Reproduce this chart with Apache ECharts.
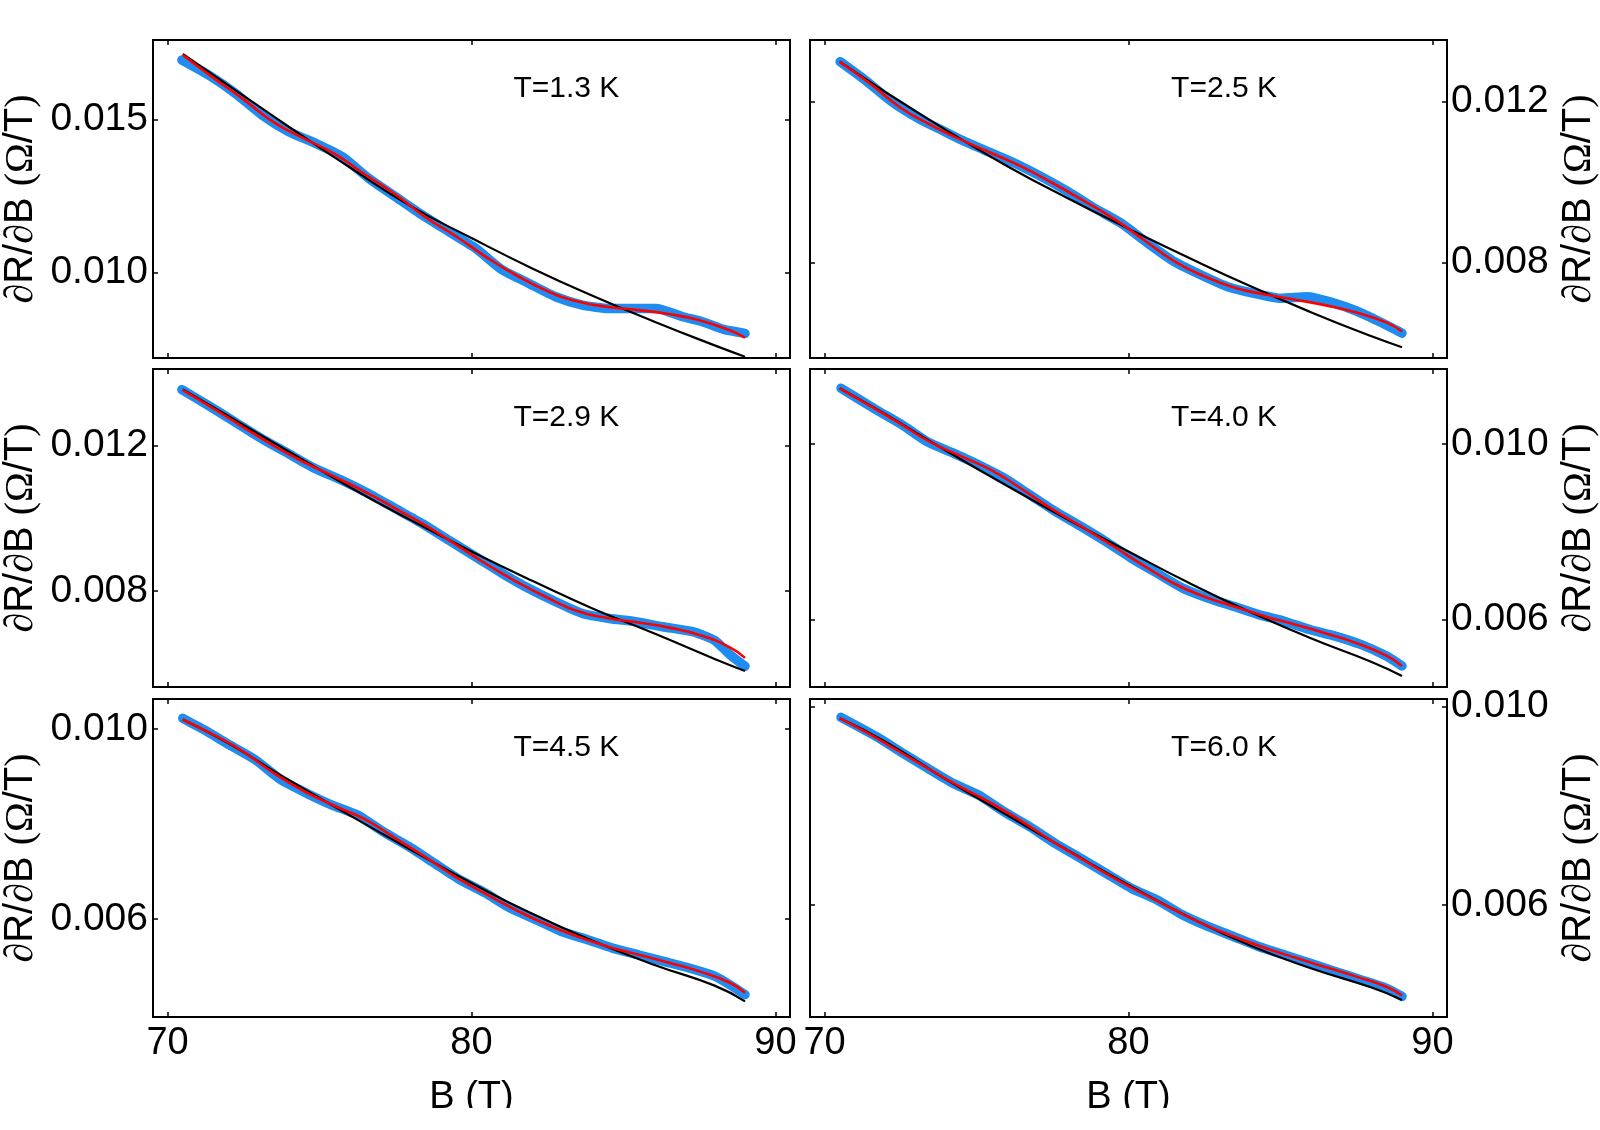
<!DOCTYPE html>
<html><head><meta charset="utf-8">
<script src="https://cdn.jsdelivr.net/npm/echarts@6/dist/echarts.min.js"></script>
<style>html,body{margin:0;padding:0;background:#fff}#c{width:1600px;height:1130px}</style>
</head><body><div id="c"></div>
<script>
// ---- data ----
const panelLabels = ['T=1.3 K', 'T=2.5 K', 'T=2.9 K', 'T=4.0 K', 'T=4.5 K', 'T=6.0 K'];
const xTickValues = [70, 80, 90];
const yTickValues = [[0.010, 0.015], [0.008, 0.012], [0.008, 0.012], [0.006, 0.010], [0.006, 0.010], [0.006, 0.010]];
const yMinValues = [0.007218, 0.005632, 0.00537, 0.004459, 0.00394, 0.003735];
const yMaxValues = [0.017587, 0.013533, 0.014101, 0.011714, 0.010631, 0.010155];
const xMinValue = 69.52, xMaxValue = 90.48;

// measured data (blue): field values and dR/dB values per panel
const b13 = [70.47, 71.35, 72.23, 73.11, 73.99, 74.87, 75.75, 76.62, 77.50, 78.38, 79.26, 80.14, 81.02, 81.89, 82.77, 83.65, 84.53, 85.41, 86.07, 86.95, 87.6, 88.3, 89.0];
const data13 = [0.016934, 0.016445, 0.015848, 0.01514, 0.014596, 0.014217, 0.01378, 0.013076, 0.012476, 0.011878, 0.011334, 0.010792, 0.010085, 0.009651, 0.009215, 0.008944, 0.008835, 0.008835, 0.008835, 0.008562, 0.0084, 0.00815, 0.00802];
const b25 = [70.51, 71.33, 72.21, 73.08, 73.96, 74.51, 75.38, 76.26, 77.13, 78.01, 78.89, 79.76, 80.64, 81.51, 82.39, 83.26, 84.14, 85.02, 85.89, 86.66, 87.5, 88.3, 89.0];
const data25 = [0.012994, 0.012539, 0.012, 0.011587, 0.011255, 0.011048, 0.010758, 0.01047, 0.010137, 0.009764, 0.009352, 0.008979, 0.008482, 0.008025, 0.007694, 0.007404, 0.00724, 0.007115, 0.007155, 0.00702, 0.0068, 0.00652, 0.00625];
const b29 = [70.47, 71.35, 72.23, 73.11, 73.99, 74.87, 75.75, 76.62, 77.50, 78.38, 79.26, 80.14, 81.02, 81.89, 82.77, 83.65, 84.53, 85.41, 86.29, 87.28, 88.0, 88.5, 89.0];
const data29 = [0.013534, 0.013096, 0.012641, 0.012184, 0.011773, 0.011362, 0.011041, 0.010677, 0.010266, 0.009855, 0.009397, 0.008943, 0.008485, 0.008074, 0.00771, 0.007389, 0.007252, 0.007162, 0.007025, 0.006888, 0.00665, 0.00626, 0.00594];
const b40 = [70.54, 71.71, 72.55, 73.39, 74.22, 75.06, 75.9, 76.74, 77.58, 78.42, 79.25, 80.09, 80.93, 81.77, 82.61, 83.45, 84.28, 85.12, 85.96, 86.8, 87.64, 88.47, 89.0];
const data40 = [0.011275, 0.01078, 0.01044, 0.01005, 0.0098, 0.00953, 0.00923, 0.00885, 0.00847, 0.00813, 0.00778, 0.0074, 0.00706, 0.00672, 0.00649, 0.0063, 0.00611, 0.00596, 0.00577, 0.00562, 0.00543, 0.00517, 0.00494];
const b45 = [70.5, 71.21, 72.05, 72.89, 73.73, 74.57, 75.41, 76.25, 77.09, 77.93, 78.77, 79.61, 80.45, 81.28, 82.12, 82.96, 83.8, 84.64, 85.48, 86.32, 87.16, 88.0, 88.5, 89.0];
const data45 = [0.010224, 0.00998, 0.00966, 0.00935, 0.00893, 0.00865, 0.0084, 0.00819, 0.00784, 0.00753, 0.00718, 0.00683, 0.00655, 0.00623, 0.00599, 0.00574, 0.00557, 0.00539, 0.00525, 0.00511, 0.00497, 0.0048, 0.00462, 0.00441];
const b60 = [70.54, 71.71, 72.55, 73.39, 74.22, 75.06, 75.9, 76.74, 77.58, 78.42, 79.25, 80.09, 80.93, 81.77, 82.61, 83.45, 84.28, 85.12, 85.96, 86.8, 87.64, 88.47, 89.0];
const data60 = [0.009785, 0.009395, 0.00907, 0.008756, 0.008454, 0.008218, 0.007882, 0.00758, 0.007244, 0.006941, 0.006639, 0.006336, 0.006101, 0.005798, 0.005563, 0.005361, 0.00516, 0.004992, 0.004824, 0.004655, 0.004487, 0.004319, 0.004151];

// red fit curves
const redB = [70.5, 71.5, 72.5, 73.5, 74.5, 75.5, 76.5, 77.5, 78.5, 79.5, 80.5, 81.5, 82.5, 83.5, 84.5, 85.5, 86.5, 87.5, 88.5, 89.0];
const red13 = [0.01710, 0.01636, 0.01565, 0.01490, 0.01437, 0.01387, 0.01320, 0.01255, 0.01180, 0.01118, 0.01050, 0.00990, 0.00940, 0.00906, 0.00888, 0.00878, 0.00865, 0.00845, 0.00812, 0.00788];
const red25 = [0.01299, 0.01245, 0.01185, 0.01142, 0.01105, 0.01072, 0.01038, 0.00998, 0.00955, 0.00910, 0.00857, 0.00804, 0.00766, 0.00738, 0.00721, 0.00708, 0.00694, 0.00676, 0.00651, 0.00629];
const red29 = [0.01352, 0.01302, 0.01250, 0.01199, 0.01154, 0.01114, 0.01073, 0.01027, 0.00980, 0.00927, 0.00874, 0.00825, 0.00782, 0.00745, 0.00726, 0.00714, 0.00700, 0.00680, 0.00646, 0.00617];
const red40 = [0.01127, 0.01087, 0.01046, 0.01004, 0.00972, 0.00940, 0.00897, 0.00851, 0.00810, 0.00767, 0.00723, 0.00682, 0.00652, 0.00629, 0.00607, 0.00588, 0.00568, 0.00546, 0.00517, 0.00494];
const red45 = [0.01020, 0.00988, 0.00952, 0.00907, 0.00869, 0.00838, 0.00810, 0.00770, 0.00730, 0.00688, 0.00652, 0.00618, 0.00588, 0.00563, 0.00542, 0.00525, 0.00508, 0.00490, 0.00466, 0.00445];
const red60 = [0.00977, 0.00944, 0.00908, 0.00872, 0.00837, 0.00805, 0.00768, 0.00728, 0.00691, 0.00655, 0.00622, 0.00590, 0.00560, 0.00535, 0.00513, 0.00493, 0.00474, 0.00455, 0.00434, 0.00417];

// black fit curves
const blackB = [70.5, 72, 74, 76, 78, 80, 82, 84, 86, 88, 89];
const black13 = [0.01713, 0.01611, 0.01475, 0.01343, 0.01217, 0.01113, 0.01014, 0.00924, 0.00841, 0.00763, 0.00726];
const black25 = [0.012994, 0.012242, 0.011294, 0.010404, 0.009602, 0.008846, 0.008116, 0.007419, 0.006771, 0.00617, 0.0059];
const black29 = [0.01354, 0.012809, 0.011828, 0.010856, 0.009951, 0.009093, 0.008285, 0.00752, 0.006844, 0.00614, 0.00581];
const black40 = [0.011275, 0.01068, 0.00985, 0.00905, 0.00828, 0.00755, 0.00683, 0.00617, 0.00557, 0.00503, 0.00471];
const black45 = [0.0102, 0.0097, 0.00892, 0.00818, 0.00746, 0.00676, 0.00611, 0.00554, 0.00504, 0.00460, 0.00427];
const black60 = [0.009765, 0.009294, 0.00853, 0.00781, 0.00710, 0.00640, 0.00575, 0.00518, 0.00472, 0.00433, 0.00408];

const yAxisName = '{s|∂}R/{s|∂}B {s|(Ω}/T{s|)}';
const xAxisName = 'B (T)';

// ---- build ----
const blueB = [b13, b25, b29, b40, b45, b60];
const blueSets = [data13, data25, data29, data40, data45, data60];
const redSets = [red13, red25, red29, red40, red45, red60];
const blackSets = [black13, black25, black29, black40, black45, black60];
const zip = (xs, ys) => ys.map((y, i) => [xs[i], y]);

const colLeft = [153, 810], colWidth = [637, 638];
const rowTop = [40, 369, 699], rowHeight = 318;
const SANS = 'Liberation Sans', SERIF = 'Liberation Serif';

const grids = [], xAxes = [], yAxes = [], series = [], graphics = [];
const tickStyle = {inside: true, length: 5, lineStyle: {color: '#000', width: 1.5}};
const nameStyle = {fontSize: 40, fontFamily: SANS, color: '#000', rich: {s: {fontSize: 40, fontFamily: SERIF, color: '#000'}}};

for (let i = 0; i < 6; i++) {
  const col = i % 2, row = Math.floor(i / 2);
  grids.push({left: colLeft[col], top: rowTop[row], width: colWidth[col], height: rowHeight,
    show: true, borderColor: '#000', borderWidth: 2, backgroundColor: 'transparent'});
  const xBase = {type: 'value', gridIndex: i, min: xMinValue, max: xMaxValue,
    axisLine: {show: false}, splitLine: {show: false},
    axisTick: Object.assign({customValues: xTickValues}, tickStyle)};
  xAxes[i] = Object.assign({}, xBase, {position: 'bottom',
    axisLabel: {show: row === 2, customValues: xTickValues, fontSize: 38, fontFamily: SANS, color: '#000', margin: 8},
    name: row === 2 ? xAxisName : '', nameLocation: 'middle', nameGap: 62,
    nameTextStyle: {fontSize: 38, fontFamily: SANS, color: '#000'}});
  xAxes[6 + i] = Object.assign({}, xBase, {position: 'top', axisLabel: {show: false}});
  const yBase = {type: 'value', gridIndex: i, min: yMinValues[i], max: yMaxValues[i],
    axisLine: {show: false}, splitLine: {show: false},
    axisTick: Object.assign({customValues: yTickValues[i]}, tickStyle)};
  yAxes[i] = Object.assign({}, yBase, {position: 'left',
    axisLabel: {show: col === 0, customValues: yTickValues[i], formatter: v => v.toFixed(3),
      fontSize: 39, fontFamily: SANS, color: '#000', margin: 5},
    name: col === 0 ? yAxisName : '', nameLocation: 'middle', nameRotate: 90, nameGap: 112, nameTextStyle: nameStyle});
  yAxes[6 + i] = Object.assign({}, yBase, {position: 'right',
    axisLabel: {show: col === 1, customValues: yTickValues[i], formatter: v => v.toFixed(3),
      fontSize: 39, fontFamily: SANS, color: '#000', margin: 4},
    name: col === 1 ? yAxisName : '', nameLocation: 'middle', nameRotate: 90, nameGap: 112, nameTextStyle: nameStyle});

  series.push({type: 'line', xAxisIndex: i, yAxisIndex: i, data: zip(blueB[i], blueSets[i]), showSymbol: false, smooth: 0.2,
    lineStyle: {color: '#1E8CF0', width: 9.5, cap: 'round', join: 'round'}, z: 1, silent: true});
  series.push({type: 'line', xAxisIndex: i, yAxisIndex: i, data: zip(blackB, blackSets[i]), showSymbol: false, smooth: true,
    lineStyle: {color: '#000', width: 2.2}, z: 2, silent: true});
  series.push({type: 'line', xAxisIndex: i, yAxisIndex: i, data: zip(redB, redSets[i]), showSymbol: false, smooth: true,
    lineStyle: {color: '#FF0000', width: 2.6}, z: 3, silent: true});

  graphics.push({type: 'text', x: colLeft[col] + 0.649 * colWidth[col], y: rowTop[row] + 49,
    style: {text: panelLabels[i], font: '30px "Liberation Sans"', fill: '#000', align: 'center', verticalAlign: 'middle'}});
}
graphics.push({type: 'rect', shape: {x: 0, y: 1108, width: 1600, height: 22}, style: {fill: '#fff'}, z: 100});

const chart = echarts.init(document.getElementById('c'), null, {renderer: 'canvas'});
chart.setOption({animation: false, backgroundColor: '#fff', grid: grids, xAxis: xAxes, yAxis: yAxes, series: series, graphic: graphics});
</script></body></html>
